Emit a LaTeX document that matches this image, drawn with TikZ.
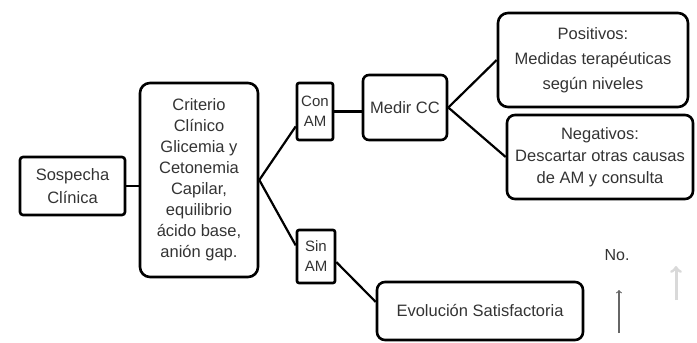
\documentclass[tikz,border=0pt]{standalone}
\usepackage{fontspec}
\setmainfont{Liberation Sans}
\usetikzlibrary{calc}
\begin{document}
\begin{tikzpicture}[x=1pt,y=-1pt,
  box/.style={draw=black,line width=2.6pt,align=center,inner sep=2pt,
    font=\fontsize{16.5}{21}\selectfont,text=black!80},
  conn/.style={draw=black,line width=2.2pt}]
\useasboundingbox (0,0) rectangle (697,343);
\node[box,rounded corners=3pt,minimum width=105pt,minimum height=58pt,font=\fontsize{16.5}{23}\selectfont] (sosp) at (72.5,186) {Sospecha\\Clínica};
\node[box,rounded corners=10pt,minimum width=118pt,minimum height=194pt] (crit) at (199,180) {Criterio\\Clínico\\Glicemia y\\Cetonemia\\Capilar,\\equilibrio\\ácido base,\\anión gap.};
\node[box,rounded corners=2pt,minimum width=36pt,minimum height=57pt,inner sep=1pt,font=\fontsize{15}{20}\selectfont] (con) at (315,111.5) {Con\\AM};
\node[box,rounded corners=2pt,minimum width=38pt,minimum height=53pt,inner sep=1pt,font=\fontsize{15}{20}\selectfont] (sin) at (316,256.5) {Sin\\AM};
\node[box,rounded corners=6pt,minimum width=84pt,minimum height=65pt] (medir) at (405,107.5) {Medir CC};
\node[box,rounded corners=10pt,minimum width=190pt,minimum height=94pt,font=\fontsize{16.5}{25}\selectfont] (pos) at (593,60) {Positivos:\\Medidas terapéuticas\\según niveles};
\node[box,rounded corners=8pt,minimum width=186pt,minimum height=84pt,font=\fontsize{16.5}{22}\selectfont] (neg) at (600,157) {Negativos:\\Descartar otras causas\\de AM y consulta};
\node[box,rounded corners=8pt,minimum width=206pt,minimum height=58pt] (evo) at (480,311) {Evolución Satisfactoria};
\node[font=\fontsize{16}{18}\selectfont,text=black!80] (no) at (617,255) {No.};
\coordinate (a1) at (619,333);
\coordinate (a2) at (619,290);
\coordinate (b1) at (676,300);
\coordinate (b2) at (676,266);
\draw[->,line width=1.2pt,black!60] (a1) -- (a2);
\draw[->,line width=3pt,black!15] (b1) -- (b2);
\draw[conn] (sosp.east) -- (sosp.east -| crit.west);
\draw[conn] (crit.east) -- ($(con.west)!0.5!(con.south west)$);
\draw[conn] (crit.east) -- ($(sin.west)!0.4!(sin.north west)$);
\draw[conn] (con.east) -- (con.east -| medir.west);
\draw[conn] (medir.east) -- (pos.west);
\draw[conn] (medir.east) -- (neg.west);
\draw[conn] ($(sin.east)!0.2!(sin.south east)$) -- ($(evo.west)!0.3!(evo.north west)$);
\end{tikzpicture}
\end{document}
